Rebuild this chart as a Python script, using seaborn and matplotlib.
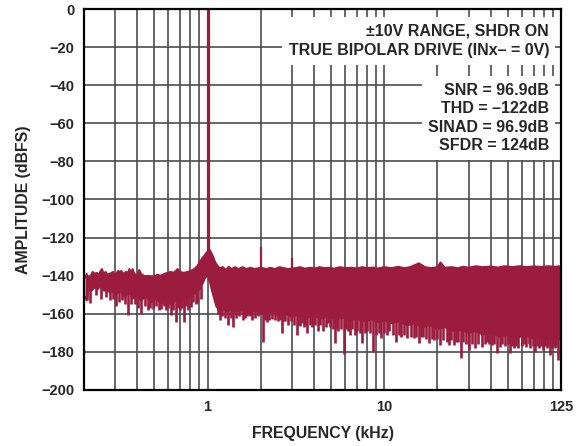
import numpy as np
import matplotlib
matplotlib.use('Agg')
import matplotlib.pyplot as plt
import seaborn as sns

# FFT plot values (frequency in kHz, amplitude in dBFS)
upper_freq = [0.204, 0.207, 0.212, 0.218, 0.224, 0.230, 0.236, 0.242, 0.248, 0.253,
              0.258, 0.265, 0.272, 0.279, 0.286, 0.292, 0.298, 0.304, 0.312, 0.320,
              0.325, 0.335, 0.345, 0.354, 0.361, 0.369, 0.377, 0.385, 0.395, 0.403,
              0.411, 0.420, 0.435, 0.450, 0.465, 0.480, 0.500, 0.520, 0.545, 0.570,
              0.594, 0.620, 0.645, 0.676, 0.700, 0.736, 0.770, 0.803, 0.840, 0.875,
              0.900, 0.930, 0.960, 0.985, 1.015, 1.030, 1.050, 1.075, 1.100, 1.130,
              1.170, 1.220, 1.270, 1.318, 1.370, 1.430, 1.500, 1.580, 1.660, 1.750,
              1.850, 1.950, 2.050, 2.150, 2.270, 2.400, 2.550, 2.700, 2.850, 3.150,
              3.350, 3.550, 3.800, 4.050, 4.300, 4.600, 4.900, 5.200, 5.600, 6.000,
              6.500, 7.000, 7.500, 8.000, 8.600, 9.200, 10.0, 11.0, 12.0, 13.0,
              14.0, 15.7, 17.0, 18.5, 20.0, 20.8, 22.0, 24.0, 26.0, 28.0,
              30.0, 33.0, 36.0, 40.0, 44.0, 48.0, 53.0, 58.0, 64.0, 70.0,
              77.0, 85.0, 92.0, 100.0]
upper_db = [-141, -139, -142, -140, -138, -139, -138.5, -140, -137.5, -136.5,
            -139, -138, -139.5, -139, -138.5, -138, -139.5, -139, -137.5, -138,
            -137.5, -139, -138, -138.5, -136.5, -138.5, -136.5, -139, -139.5, -140,
            -137, -139, -140, -140.5, -140, -141, -140.5, -139.5, -140, -139,
            -138.5, -138, -138.5, -136.5, -138, -138.5, -138, -137.5, -136.5, -135,
            -133, -131, -129.5, -128, -127, -126.5, -128, -130, -132.5, -134.5,
            -136, -135.5, -137, -135.3, -136.5, -135.5, -136.5, -135.5, -136.5, -135.8,
            -136.5, -136, -136, -136.5, -135.8, -136.5, -135.5, -136, -136.5, -136,
            -135.5, -136.3, -135.8, -136.2, -135.5, -136, -135.8, -136.3, -135.5, -136,
            -135.8, -136.2, -135.5, -136, -135.7, -136.2, -135.5, -136, -135.3, -136,
            -135.5, -133.5, -135.5, -136, -135.5, -133, -135.8, -135.5, -136, -135.3,
            -135.8, -135, -135.5, -135.2, -135.7, -135, -135.5, -135, -135.5, -135.1,
            -135.4, -135, -135.3, -135]

lower_freq = [0.204, 0.207, 0.212, 0.22, 0.23, 0.24, 0.25, 0.26, 0.27, 0.28,
              0.29, 0.30, 0.32, 0.34, 0.36, 0.38, 0.40, 0.42, 0.45, 0.48,
              0.51, 0.55, 0.58, 0.62, 0.66, 0.70, 0.74, 0.78, 0.82, 0.86,
              0.90, 0.94, 0.97, 1.0, 1.03, 1.06, 1.09, 1.12, 1.16, 1.22,
              1.28, 1.35, 1.45, 1.55, 1.65, 1.8, 1.95, 2.1, 2.3, 2.5,
              2.75, 3.0, 3.3, 3.6, 4.0, 4.4, 4.8, 5.3, 5.8, 6.4,
              7.0, 7.7, 8.5, 9.3, 10.0, 11.0, 12.0, 13.5, 15.0, 16.5,
              18.0, 20.0, 22.0, 24.0, 27.0, 30.0, 33.0, 36.0, 40.0, 45.0,
              50.0, 56.0, 63.0, 70.0, 78.0, 86.0, 95.0, 100.0]
lower_db = [-151, -153, -147, -148, -146, -147, -145, -148, -147, -149,
            -148, -150, -148, -151, -149, -152, -150, -153, -151, -154,
            -152, -155, -153, -155, -153, -154, -152, -152, -150, -149,
            -147, -144, -141, -140, -143, -148, -152, -156, -158, -157,
            -159, -158, -159, -158, -159.5, -158.5, -159, -160, -159, -161,
            -160, -161.5, -160.5, -162, -161, -162.5, -161.5, -163, -162, -163.5,
            -162.5, -164, -163, -164.5, -163.5, -165, -164, -166, -165, -167,
            -166, -168, -167, -169, -168.5, -170, -169, -171, -170, -172,
            -171, -172.5, -171.5, -173, -172, -173.5, -172.5, -174]

# downward noise spikes below the body of the spectrum
spike_freq = [0.209, 0.215, 0.235, 0.25, 0.265, 0.279, 0.29, 0.304, 0.317, 0.33,
              0.343, 0.354, 0.37, 0.39, 0.405, 0.420, 0.44, 0.458, 0.475, 0.489,
              0.51, 0.53, 0.545, 0.565, 0.58, 0.60, 0.620, 0.64, 0.661, 0.68,
              0.70, 0.72, 0.736, 0.76, 0.78, 0.803, 0.83, 0.855, 0.875, 0.913,
              1.14, 1.173, 1.21, 1.25, 1.30, 1.35, 1.394, 1.45, 1.50, 1.533,
              1.58, 1.62, 1.68, 1.73, 1.79, 1.85, 1.92, 2.07, 2.12, 2.165,
              2.23, 2.31, 2.41, 2.5, 2.56, 2.63, 2.7, 2.75, 2.86, 2.95,
              3.07, 3.19, 3.26, 3.33, 3.42, 3.5, 3.58, 3.66, 3.78, 3.9,
              4.05, 4.22, 4.35, 4.5, 4.65, 4.8, 4.95, 5.1, 5.24, 5.37,
              5.5, 5.7, 5.88, 6.05, 6.2, 6.36, 6.55, 6.8, 7.0, 7.25,
              7.5, 7.75, 8.0, 8.3, 8.6, 9.0, 9.3, 9.6, 10.0, 10.35,
              10.7, 11.2, 11.7, 12.1, 12.5, 13.0, 13.5, 14.1, 14.7, 15.2,
              15.7, 16.1, 16.5, 17.2, 17.9, 18.5, 19.0, 19.8, 20.8, 21.6,
              22.7, 23.2, 24.0, 24.8, 25.5, 26.0, 27.0, 28.0, 29.0, 30.0,
              31.3, 32.6, 34.0, 35.8, 37.0, 38.0, 39.3, 40.6, 42.0, 43.3,
              45.2, 46.5, 48.0, 49.8, 51.5, 53.0, 54.0, 55.6, 57.4, 60.0,
              62.0, 63.6, 65.5, 67.0, 69.0, 71.2, 73.0, 75.0, 77.0, 79.3,
              81.0, 83.0, 84.8, 86.7, 88.5, 90.0, 92.0, 94.0, 96.5, 99.5]
spike_db = [-153, -154.5, -150, -152, -151, -153, -152, -155.7, -154, -153,
            -155, -160.7, -155, -155, -157, -160, -156, -158, -157, -157.3,
            -156, -158, -157.3, -156, -158, -157, -160.7, -158, -164.2, -157,
            -158, -157, -164.2, -156, -158, -156.3, -154, -155, -154.5, -152,
            -160, -163.3, -161, -162, -165.9, -162, -166.8, -162, -161, -160,
            -163, -162, -161, -160.9, -163, -162, -161, -174.6, -163, -164.2,
            -163, -162.7, -163, -164, -163, -170.3, -164, -164, -165.9, -164,
            -166, -171.2, -166, -166.2, -165, -167, -166, -170.3, -166, -167,
            -166, -168.8, -166, -169, -167, -164.7, -167, -168, -175.5, -168,
            -169, -168, -181.3, -168, -169, -171.2, -168, -171, -169, -170,
            -175.5, -170, -169, -170, -179.9, -171, -170, -172.9, -170, -171,
            -168.9, -171, -174.6, -171, -172, -171, -172.9, -172, -172.9, -172,
            -175.5, -172, -172, -173, -175.5, -173, -174, -173, -176.4, -174,
            -174.6, -176.4, -174, -176.4, -175, -175, -183.4, -175, -176, -179,
            -176, -178.1, -176, -177.3, -176, -175, -176, -176.4, -176, -180.8,
            -177.3, -176, -177, -176, -180.8, -177, -178, -177, -178.1, -177,
            -176, -177.3, -176, -178, -177, -179.9, -177, -178, -177, -179,
            -177, -178, -177, -181.7, -178, -177, -178, -177, -184.3, -185]

# fundamental and harmonic spurs
tone_freq = [1.0, 2.0, 3.0]
tone_db = [0.0, -124.8, -130.9]

y_ticks = [0, -20, -40, -60, -80, -100, -120, -140, -160, -180, -200]
x_ticks = [1, 10, 100]
x_tick_labels = ['1', '10', '125']

header_lines = ['\u00b110V RANGE, SHDR ON', 'TRUE BIPOLAR DRIVE (INx\u2013 = 0V)']
stat_lines = ['SNR = 96.9dB', 'THD = \u2013122dB', 'SINAD = 96.9dB', 'SFDR = 124dB']

sns.set_style('white')
plt.rcParams['font.family'] = ['Liberation Sans', 'DejaVu Sans']
plt.rcParams['font.weight'] = 'bold'

color = '#9c1c40'
grid_color = '#4d4d4d'

fig = plt.figure(figsize=(5.83, 4.46), dpi=100)
ax = fig.add_axes([0.1441, 0.1256, 0.8182, 0.8542])
ax.set_xscale('log')

# body of the noise floor
poly_x = np.concatenate([upper_freq, lower_freq[::-1]])
poly_y = np.concatenate([upper_db, lower_db[::-1]])
ax.fill(poly_x, poly_y, color=color, lw=0, zorder=3)
sns.lineplot(x=upper_freq, y=upper_db, ax=ax, color=color, lw=1.4,
             estimator=None, sort=False, zorder=3)
sns.lineplot(x=lower_freq, y=lower_db, ax=ax, color=color, lw=1.4,
             estimator=None, sort=False, zorder=3)
ax.vlines(spike_freq, -145, spike_db, color=color, lw=1.9, zorder=3)
ax.vlines(tone_freq[0], -130, tone_db[0], color=color, lw=2.3, zorder=4)
ax.vlines(tone_freq[1:], -137, tone_db[1:], color=color, lw=1.6, zorder=3)

ax.set_xlim(0.2, 100)
ax.set_ylim(-200, 0)
ax.set_yticks(y_ticks)
ax.set_xticks(x_ticks)
ax.set_xticklabels(x_tick_labels)
ax.xaxis.set_minor_formatter(matplotlib.ticker.NullFormatter())
ax.tick_params(axis='both', which='both', length=0, labelsize=10.5, pad=7)
for lab in ax.get_xticklabels() + ax.get_yticklabels():
    lab.set_fontweight('bold')

ax.grid(True, which='major', axis='both', color=grid_color, lw=1.2, zorder=1)
ax.grid(True, which='minor', axis='x', color=grid_color, lw=1.2, zorder=1)
ax.set_axisbelow(True)
for sp in ax.spines.values():
    sp.set_color('black')
    sp.set_linewidth(1.6)
    sp.set_zorder(5)

ax.set_xlabel('FREQUENCY (kHz)', fontsize=11.4, fontweight='bold', labelpad=9)
ax.set_ylabel('AMPLITUDE (dBFS)', fontsize=11.4, fontweight='bold', labelpad=7)

box = dict(boxstyle='square,pad=0.4', facecolor='white', edgecolor='none')
ax.text(0.975, 0.961, '\n'.join(header_lines), transform=ax.transAxes,
        ha='right', va='top', multialignment='right', fontsize=11.5,
        fontweight='bold', linespacing=1.38, bbox=box, zorder=6)
ax.text(0.975, 0.807, '\n'.join(stat_lines), transform=ax.transAxes,
        ha='right', va='top', multialignment='right', fontsize=11.5,
        fontweight='bold', linespacing=1.3, bbox=box, zorder=6)

fig.savefig('out.png', dpi=100)
